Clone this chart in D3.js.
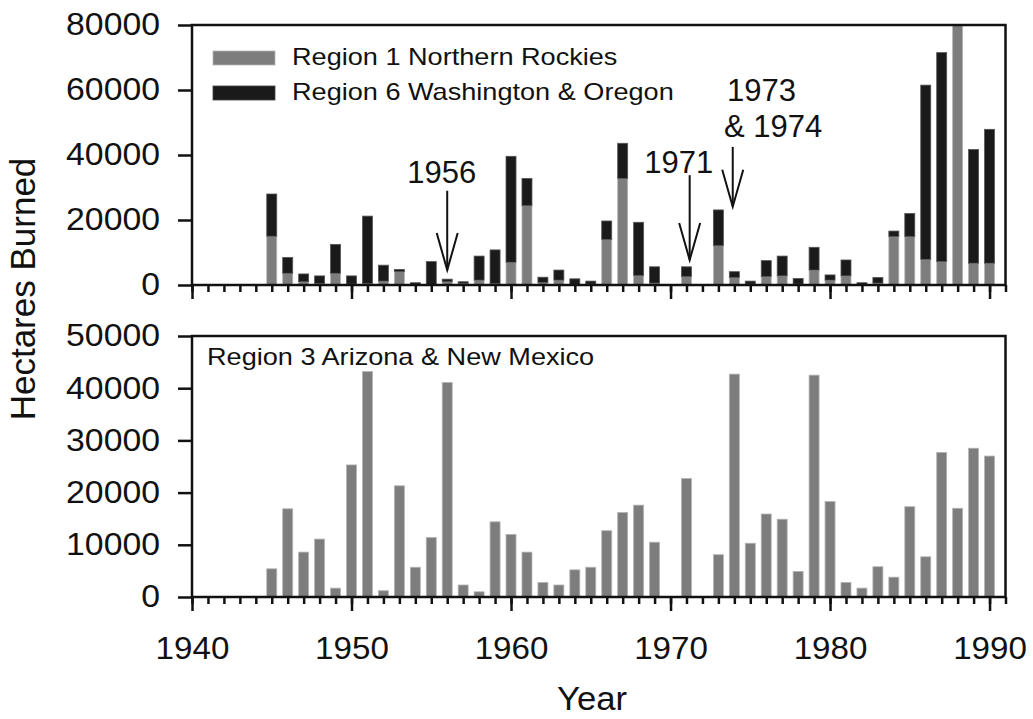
<!DOCTYPE html>
<html>
<head>
<meta charset="utf-8">
<script src="https://cdn.jsdelivr.net/npm/d3@7"></script>
<style>
  body { margin: 0; background: #fff; }
  text { font-family: "Liberation Sans", Arial, sans-serif; fill: #111; }
</style>
</head>
<body>
<div id="chart"></div>
<script>
// data (hectares burned per year)
const years = [1945, 1946, 1947, 1948, 1949, 1950, 1951, 1952, 1953, 1954,
               1955, 1956, 1957, 1958, 1959, 1960, 1961, 1962, 1963, 1964,
               1965, 1966, 1967, 1968, 1969, 1970, 1971, 1972, 1973, 1974,
               1975, 1976, 1977, 1978, 1979, 1980, 1981, 1982, 1983, 1984,
               1985, 1986, 1987, 1988, 1989, 1990];

const region1 = [15000, 3600, 1000, 500, 3600, 300, 500, 1200, 4100, 200,
                 200, 1000, 500, 1500, 500, 7000, 24400, 800, 1500, 200,
                 300, 14000, 32800, 2900, 600, 0, 2600, 0, 12100, 2300,
                 300, 2600, 2800, 300, 4600, 1500, 2800, 200, 600, 14900,
                 14900, 7900, 7200, 80000, 6700, 6700];

const region6 = [13000, 4900, 2400, 2300, 8900, 2500, 20700, 4900, 700, 500,
                 7000, 800, 500, 7400, 10300, 32600, 8400, 1600, 3100, 1700,
                 900, 5700, 10800, 16400, 5000, 0, 3000, 0, 11000, 1800,
                 900, 4900, 6100, 1700, 7000, 1600, 4900, 500, 1700, 1700,
                 7100, 53600, 64300, 0, 35000, 41200];

const region3 = [5400, 16900, 8600, 11100, 1700, 25300, 43200, 1200, 21300, 5700,
                 11400, 41100, 2300, 1000, 14400, 12000, 8600, 2800, 2300, 5200,
                 5700, 12700, 16200, 17600, 10500, 0, 22700, 0, 8100, 42700,
                 10300, 15900, 14900, 4900, 42500, 18300, 2800, 1700, 5800, 3800,
                 17300, 7700, 27700, 17000, 28500, 27000];

const topTicks = [0, 20000, 40000, 60000, 80000];
const bottomTicks = [0, 10000, 20000, 30000, 40000, 50000];
const xMajor = [1940, 1950, 1960, 1970, 1980, 1990];

const seriesNames = ["Region 1 Northern Rockies", "Region 6 Washington & Oregon"];
const bottomName = "Region 3 Arizona & New Mexico";

// annotations: label lines, year of arrow, arrow start / tip values
const notes = [
  { lines: ["1956"], year: 1956, from: 29000, to: 4600 },
  { lines: ["1971"], year: 1971.2, from: 33800, to: 7700 },
  { lines: ["1973", "& 1974"], year: 1973.9, from: 42500, to: 24100 }
];

const W = 1033, H = 719;
const left = 192, right = 1005.5;
const topPanel = { y0: 25, y1: 285 };
const botPanel = { y0: 336, y1: 597 };

const grey = "#7d7d7d", black = "#1a1a1a";

const svg = d3.select("#chart").append("svg")
  .attr("width", W).attr("height", H)
  .attr("viewBox", [0, 0, W, H]);

const x = d3.scaleLinear().domain([1940, 1991]).range([left, right]);
const bw = 10;

const yTop = d3.scaleLinear().domain([0, 80000]).range([topPanel.y1, topPanel.y0]);
const yBot = d3.scaleLinear().domain([0, 50000]).range([botPanel.y1, botPanel.y0]);

const table = years.map((yr, i) => ({ year: yr, r1: region1[i], r6: region6[i] }));
const stacked = d3.stack().keys(["r1", "r6"])(table);

svg.append("clipPath").attr("id", "clipTop")
  .append("rect").attr("x", left).attr("y", topPanel.y0)
  .attr("width", right - left).attr("height", topPanel.y1 - topPanel.y0);

// top panel stacked bars
svg.append("g").attr("clip-path", "url(#clipTop)")
  .selectAll("g")
  .data(stacked)
  .join("g")
  .attr("fill", (d, i) => i === 0 ? grey : black)
  .attr("stroke", (d, i) => i === 0 ? "#b5b5b5" : "#555")
  .attr("stroke-width", 0.8)
  .selectAll("rect")
  .data(d => d.filter(p => p[1] > p[0]))
  .join("rect")
  .attr("x", d => x(d.data.year) - bw / 2)
  .attr("y", d => yTop(d[1]))
  .attr("height", d => yTop(d[0]) - yTop(d[1]))
  .attr("width", bw);

// bottom panel bars
svg.append("g")
  .attr("fill", grey)
  .attr("stroke", "#b5b5b5")
  .attr("stroke-width", 0.8)
  .selectAll("rect")
  .data(years.map((yr, i) => ({ year: yr, value: region3[i] })).filter(d => d.value > 0))
  .join("rect")
  .attr("x", d => x(d.year) - bw / 2)
  .attr("y", d => yBot(d.value))
  .attr("height", d => yBot(0) - yBot(d.value))
  .attr("width", bw);

function styleAxis(g) {
  g.select(".domain").remove();
  g.selectAll("line").attr("stroke", "#111").attr("stroke-width", 2.5);
}

function drawPanel(y, panel, ticks, showYearLabels) {
  // frame
  svg.append("rect")
    .attr("x", left).attr("y", panel.y0)
    .attr("width", right - left).attr("height", panel.y1 - panel.y0)
    .attr("fill", "none").attr("stroke", "#111").attr("stroke-width", 2.5);

  // y axis
  const sy = 1.09;
  svg.append("g")
    .attr("transform", `translate(${left},0)`)
    .call(d3.axisLeft(y).tickValues(ticks).tickSize(14).tickFormat(d3.format("d")))
    .call(styleAxis)
    .call(g => g.selectAll("text")
      .attr("x", -32 / sy)
      .attr("transform", `scale(${sy},1)`)
      .style("font-size", "31px")
      .attr("fill", "#111"));

  // minor x ticks every year
  svg.append("g")
    .attr("transform", `translate(0,${panel.y1})`)
    .call(d3.axisBottom(x).tickValues(d3.range(1940, 1992)).tickSize(7).tickFormat(""))
    .call(styleAxis);

  // major x ticks
  const sx = 1.07;
  svg.append("g")
    .attr("transform", `translate(0,${panel.y1})`)
    .call(d3.axisBottom(x).tickValues(xMajor).tickSize(14).tickFormat(d3.format("d")))
    .call(styleAxis)
    .call(g => g.selectAll("text")
      .attr("y", 0).attr("dy", null)
      .attr("transform", `translate(0,62) scale(${sx},1)`)
      .style("font-size", "31px")
      .attr("fill", "#111")
      .style("display", showYearLabels ? null : "none"));
}

drawPanel(yTop, topPanel, topTicks, false);
drawPanel(yBot, botPanel, bottomTicks, true);

// text with a slight horizontal stretch to match the figure's lettering
function label(str, px, py, size, sx, anchor) {
  return svg.append("text")
    .attr("transform", `translate(${px},${py}) scale(${sx},1)`)
    .attr("text-anchor", anchor || "start")
    .style("font-size", size + "px")
    .text(str);
}

// legend (top panel)
const legendColors = [grey, black];
seriesNames.forEach((name, i) => {
  svg.append("rect")
    .attr("x", left + 21).attr("y", topPanel.y0 + 26 + i * 35)
    .attr("width", 62).attr("height", 14)
    .attr("fill", legendColors[i])
    .attr("stroke", i === 0 ? "#b5b5b5" : "#444").attr("stroke-width", 0.8);
  label(name, left + 100, topPanel.y0 + 40 + i * 35, 24, 1.13);
});

// bottom panel title
label(bottomName, left + 15, botPanel.y0 + 29, 24, 1.13);

// annotations with open arrowheads
notes.forEach(n => {
  const ax = x(n.year);
  const y1 = yTop(n.from), y2 = yTop(n.to);
  svg.append("line")
    .attr("x1", ax).attr("x2", ax).attr("y1", y1).attr("y2", y2)
    .attr("stroke", "#111").attr("stroke-width", 2);
  svg.append("path")
    .attr("d", `M${ax - 10.5},${y2 - 37} L${ax},${y2} L${ax + 10.5},${y2 - 37}`)
    .attr("fill", "none").attr("stroke", "#111").attr("stroke-width", 2);
});
label("1956", x(1956) - 5.5, 182.5, 31, 1.0, "middle");
label("1971", x(1971.2) - 11, 173, 31, 1.0, "middle");
label("1973", 727, 101, 31, 1.0);
label("& 1974", 724, 137, 31, 1.0);

// axis titles
svg.append("text")
  .attr("transform", `translate(35,${(topPanel.y0 + botPanel.y1) / 2 - 22}) rotate(-90)`)
  .attr("text-anchor", "middle")
  .style("font-size", "35px")
  .text("Hectares Burned");

label("Year", 592, 710, 33, 1.05, "middle");
</script>
</body>
</html>
